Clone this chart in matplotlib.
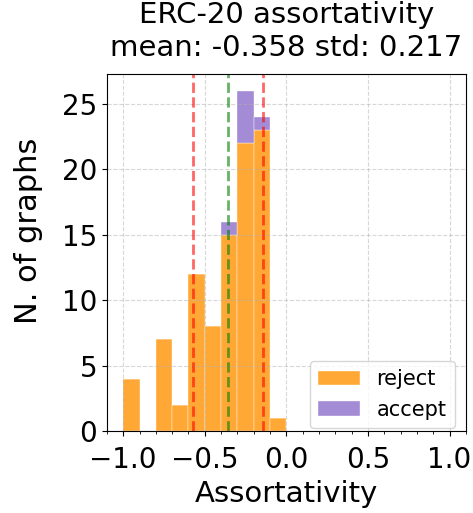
import matplotlib
matplotlib.use("Agg")
import matplotlib.pyplot as plt
from matplotlib.ticker import MultipleLocator
import numpy as np

# histogram bins (width 0.1) and counts
bin_edges = [-1.0, -0.9, -0.8, -0.7, -0.6, -0.5, -0.4, -0.3, -0.2, -0.1, 0.0]
reject_counts = [4, 0, 7, 2, 12, 8, 15, 22, 23, 1]
accept_counts = [0, 0, 0, 0, 0, 0, 1, 4, 1, 0]
labels = ["reject", "accept"]

mean = -0.358
std = 0.217

plt.rcParams["font.size"] = 20

fig = plt.figure(figsize=(4.73, 5.13), dpi=100)
ax = fig.add_axes([0.226, 0.160, 0.759, 0.696])

centers = (np.array(bin_edges[:-1]) + np.array(bin_edges[1:])) / 2
ax.hist([centers, centers], bins=bin_edges, weights=[reject_counts, accept_counts],
        stacked=True, color=["#ff9f1f", "#9a7fd1"], label=labels,
        edgecolor="white", linewidth=0.3, alpha=0.9)

ax.axvline(mean - std, color="red", linestyle="--", linewidth=2, alpha=0.6)
ax.axvline(mean + std, color="red", linestyle="--", linewidth=2, alpha=0.6)
ax.axvline(mean, color="green", linestyle="--", linewidth=2, alpha=0.6)

ax.set_xlim(-1.1, 1.1)
ax.xaxis.set_major_locator(MultipleLocator(0.5))
ax.xaxis.set_minor_locator(MultipleLocator(0.1))
ax.yaxis.set_major_locator(MultipleLocator(5))
ax.tick_params(labelsize=20)
ax.tick_params(axis="x", which="major", pad=7.5)
ax.grid(True, linestyle="--", alpha=0.5, linewidth=0.8)
ax.set_xlabel("Assortativity", fontsize=21, labelpad=4)
ax.set_ylabel("N. of graphs", fontsize=22)
ax.yaxis.set_label_coords(-0.178, 0.56)
ax.set_title("ERC-20 assortativity\nmean: %.3f std: %.3f" % (mean, std), fontsize=21, pad=13)
ax.legend(loc="lower right", fontsize=15, bbox_to_anchor=(0.969, 0.008), borderaxespad=0)

plt.savefig("out.png", dpi=100)
